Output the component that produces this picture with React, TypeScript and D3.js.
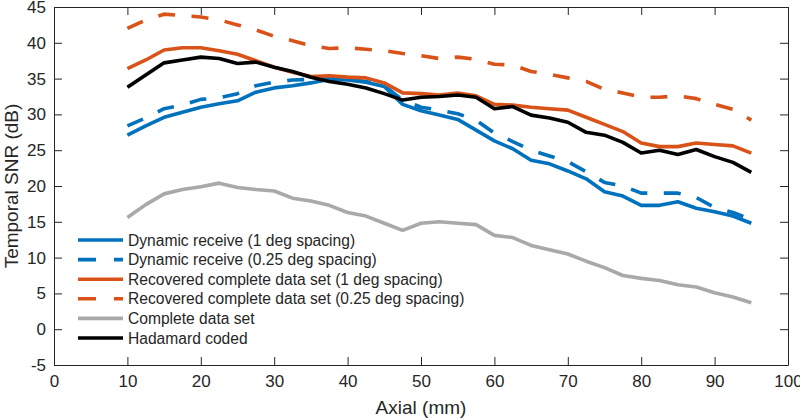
import React, { useRef, useEffect } from "react";
import * as d3 from "d3";

// Axial positions (mm) at which the curves were read
const axial = [
	10, 12.5, 15, 17.5, 20, 22.5, 25, 27.5, 30, 32.5, 35, 37.5, 40, 42.5, 45,
	47.5, 50, 52.5, 55, 57.5, 60, 62.5, 65, 67.5, 70, 72.5, 75, 77.5, 80, 82.5,
	85, 87.5, 90, 92.5, 95,
];

// Temporal SNR (dB)
const dynamic1 = [
	27.1, 28.4, 29.6, 30.3, 31.0, 31.5, 31.9, 33.1, 33.7, 34.0, 34.4, 34.9, 34.8,
	34.5, 33.9, 31.4, 30.5, 29.9, 29.3, 27.8, 26.3, 25.2, 23.6, 23.1, 22.1, 21.0,
	19.2, 18.6, 17.3, 17.3, 17.8, 16.9, 16.4, 15.8, 14.8,
];
const dynamic025 = [
	28.4, 29.5, 30.8, 31.3, 32.1, 32.3, 32.9, 34.0, 34.5, 34.8, 34.9, 35.0, 34.9,
	34.6, 34.0, 32.0, 31.0, 30.6, 30.1, 29.2, 27.4, 26.2, 25.0, 24.2, 23.4, 22.0,
	20.5, 20.0, 19.0, 19.0, 19.0, 18.4, 17.0, 16.3, 15.3,
];
const recovered1 = [
	36.4, 37.6, 39.0, 39.3, 39.3, 38.9, 38.4, 37.5, 36.6, 35.9, 35.3, 35.4, 35.2,
	35.1, 34.4, 33.0, 32.9, 32.7, 33.0, 32.6, 31.4, 31.3, 31.0, 30.8, 30.6, 29.6,
	28.6, 27.6, 26.0, 25.5, 25.5, 26.0, 25.8, 25.6, 24.6,
];
const recovered025 = [
	42.0, 43.2, 44.0, 43.8, 43.6, 43.2, 42.5, 41.8, 40.9, 40.3, 39.6, 39.2, 39.3,
	39.1, 38.9, 38.5, 38.2, 37.8, 38.0, 37.7, 37.0, 36.9, 36.0, 35.6, 35.1, 34.6,
	33.5, 33.0, 32.4, 32.4, 32.6, 32.2, 31.4, 30.7, 29.2,
];
const complete = [
	15.6, 17.4, 18.9, 19.5, 19.9, 20.4, 19.8, 19.5, 19.3, 18.3, 17.9, 17.3, 16.3,
	15.8, 14.8, 13.8, 14.8, 15.0, 14.8, 14.6, 13.1, 12.8, 11.7, 11.1, 10.5, 9.5,
	8.6, 7.5, 7.1, 6.8, 6.2, 5.9, 5.1, 4.5, 3.7,
];
const hadamard = [
	33.8, 35.5, 37.2, 37.6, 38.0, 37.8, 37.1, 37.3, 36.6, 36.0, 35.2, 34.6, 34.2,
	33.7, 32.9, 32.0, 32.4, 32.5, 32.7, 32.4, 30.8, 31.1, 29.9, 29.5, 28.9, 27.5,
	27.1, 26.1, 24.6, 25.0, 24.4, 25.1, 24.1, 23.3, 21.9,
];

const xTicks = [0, 10, 20, 30, 40, 50, 60, 70, 80, 90, 100];
const yTicks = [-5, 0, 5, 10, 15, 20, 25, 30, 35, 40, 45];

const series = [
	{ name: "Dynamic receive (1 deg spacing)", values: dynamic1, color: "#0072BD", dashed: false },
	{ name: "Dynamic receive (0.25 deg spacing)", values: dynamic025, color: "#0072BD", dashed: true },
	{ name: "Recovered complete data set (1 deg spacing)", values: recovered1, color: "#D95319", dashed: false },
	{ name: "Recovered complete data set (0.25 deg spacing)", values: recovered025, color: "#D95319", dashed: true },
	{ name: "Complete data set", values: complete, color: "#A9A9A9", dashed: false },
	{ name: "Hadamard coded", values: hadamard, color: "#000000", dashed: false },
];

const W = 800;
const H = 418;
const margin = { top: 7, right: 12, bottom: 53, left: 54 };
const FONT = "'Liberation Sans', Arial, Helvetica, sans-serif";
const AXIS_COLOR = "#262626";
const DASH = "17 16.5";
const LW = 3.6;

const App: React.FC = () => {
	const svgRef = useRef<SVGSVGElement | null>(null);

	useEffect(() => {
		if (!svgRef.current) return;
		const svg = d3.select(svgRef.current);
		svg.selectAll("*").remove();

		const iw = W - margin.left - margin.right;
		const ih = H - margin.top - margin.bottom;

		const x = d3.scaleLinear().domain([0, 100]).range([0, iw]);
		const y = d3.scaleLinear().domain([-5, 45]).range([ih, 0]);

		const g = svg
			.append("g")
			.attr("transform", `translate(${margin.left},${margin.top})`);

		// Curves
		series.forEach((s) => {
			const line = d3
				.line<number>()
				.x((_, i) => x(axial[i]))
				.y((d) => y(d))
				.curve(d3.curveLinear);
			g.append("path")
				.datum(s.values)
				.attr("fill", "none")
				.attr("stroke", s.color)
				.attr("stroke-width", LW)
				.attr("stroke-linejoin", "round")
				.attr("stroke-dasharray", s.dashed ? DASH : null)
				.attr("d", line);
		});

		// Axes (MATLAB style: ticks inward, box on)
		const styleAxis = (sel: d3.Selection<SVGGElement, unknown, null, undefined>) => {
			sel.selectAll("path.domain").attr("stroke", AXIS_COLOR).attr("stroke-width", 1);
			sel.selectAll(".tick line").attr("stroke", AXIS_COLOR).attr("stroke-width", 1);
			sel
				.selectAll(".tick text")
				.attr("fill", AXIS_COLOR)
				.style("font-family", FONT)
				.style("font-size", "17px");
		};
		const plain = (d: d3.NumberValue) => String(d);

		g.append("g")
			.attr("transform", `translate(0,${ih})`)
			.call(d3.axisBottom(x).tickValues(xTicks).tickFormat(plain).tickSizeInner(-8).tickSizeOuter(0).tickPadding(10))
			.call(styleAxis);
		g.append("g")
			.call(d3.axisTop(x).tickValues(xTicks).tickSizeInner(-8).tickSizeOuter(0).tickFormat(() => ""))
			.call(styleAxis);
		g.append("g")
			.call(d3.axisLeft(y).tickValues(yTicks).tickFormat(plain).tickSizeInner(-8).tickSizeOuter(0).tickPadding(8))
			.call(styleAxis);
		g.append("g")
			.attr("transform", `translate(${iw},0)`)
			.call(d3.axisRight(y).tickValues(yTicks).tickSizeInner(-8).tickSizeOuter(0).tickFormat(() => ""))
			.call(styleAxis);

		// Axis labels
		svg.append("text")
			.attr("x", margin.left + iw / 2)
			.attr("y", 414)
			.attr("text-anchor", "middle")
			.attr("fill", AXIS_COLOR)
			.style("font-family", FONT)
			.style("font-size", "19px")
			.text("Axial (mm)");
		svg.append("text")
			.attr("transform", `translate(18,${margin.top + ih / 2}) rotate(-90)`)
			.attr("text-anchor", "middle")
			.attr("fill", AXIS_COLOR)
			.style("font-family", FONT)
			.style("font-size", "19px")
			.text("Temporal SNR (dB)");

		// Legend
		const legend = svg.append("g").attr("transform", "translate(78,240)");
		series.forEach((s, i) => {
			const row = legend.append("g").attr("transform", `translate(0,${i * 19.6})`);
			row.append("line")
				.attr("x1", 0)
				.attr("x2", 45)
				.attr("y1", 0)
				.attr("y2", 0)
				.attr("stroke", s.color)
				.attr("stroke-width", LW)
				.attr("stroke-dasharray", s.dashed ? "18 18" : null);
			row.append("text")
				.attr("x", 50)
				.attr("y", 0)
				.attr("dy", "0.36em")
				.attr("fill", AXIS_COLOR)
				.style("font-family", FONT)
				.style("font-size", "15.6px")
				.text(s.name);
		});
	}, []);

	return (
		<div style={{ position: "fixed", left: 0, top: 0, width: W, height: H, background: "#fff" }}>
			<svg ref={svgRef} width={W} height={H} style={{ display: "block" }} />
		</div>
	);
};

export default App;
